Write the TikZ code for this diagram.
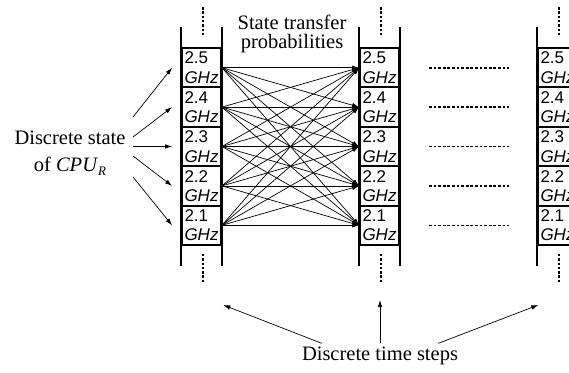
\documentclass[tikz,border=0pt]{standalone}
\usepackage{fontspec}
\setmainfont{Liberation Serif}
\newfontfamily\boxfont{Liberation Sans}
\usepackage{tikz}
\usetikzlibrary{arrows.meta,positioning,calc}
\tikzstyle{statebox} = [draw, line width=1.9pt, rectangle, minimum width=39pt, minimum height=39.4pt, inner sep=0pt, text width=34pt, align=left, font={\boxfont\fontsize{17}{19.5}\selectfont}]
\tikzstyle{rail} = [line width=1.9pt]
\tikzstyle{vdots} = [line width=2pt, dash pattern=on 2.5pt off 1.8pt]
\tikzstyle{hdots} = [line width=1.6pt, dash pattern=on 2.8pt off 1.8pt]
\tikzstyle{trans} = [line width=0.7pt, -{Latex[length=7pt,width=4.5pt]}]
\tikzstyle{mytext} = [draw=none, align=center, inner sep=0pt]

\begin{document}
\begin{tikzpicture}[x=1pt,y=-1pt]
    \useasboundingbox (0,0) rectangle (569,372);
    \clip (0,0) rectangle (569,372);
    % State columns (one per time step)
    \foreach \c/\x in {1/201.5,2/379.5,3/557.5} {
      \foreach \s/\f in {1/2.1,2/2.2,3/2.3,4/2.4,5/2.5} {
        \node[statebox] (step\c-\s) at (\x,{225.3-(\s-1)*39.4}) {\f\\\textit{GHz}};
      }
      \draw[rail] ($(step\c-5.north west)+(0,-20)$) -- ($(step\c-1.south west)+(0,20)$);
      \draw[rail] ($(step\c-5.north east)+(0,-20)$) -- ($(step\c-1.south east)+(0,20)$);
      \draw[vdots] ($(step\c-5.north)+(1,-40)$) -- ($(step\c-5.north)+(1,-10)$);
      \draw[vdots] ($(step\c-1.south)+(1,8)$) -- ($(step\c-1.south)+(1,38)$);
    }
    % State transfer probabilities
    \foreach \i in {1,...,5} {
      \foreach \j in {1,...,5} {
        \draw[trans] (step1-\i.east) -- (step2-\j.west);
      }
    }
    % Dotted gap between steps
    \foreach \s in {1,...,5} {
      \draw[hdots, shorten <=29pt, shorten >=28pt] (step2-\s.east) -- (step3-\s.west);
    }
    % Text labels
    \node[mytext, font={\fontsize{20.5}{19}\selectfont}] (Transfer) at (292,34) {State transfer\\probabilities};
    \node[mytext, font={\fontsize{20.5}{27}\selectfont}] (CPU) at (70,153) {Discrete state\\of \textit{CPU}\raisebox{-4pt}{\fontsize{13}{13}\selectfont\textit{R}}};
    \node[mytext, font={\fontsize{20.5}{24}\selectfont}] (Time) at (380,356) {Discrete time steps};
    % Arrows from the state label
    \foreach \s/\y in {1/177,2/156,3/146.5,4/137,5/117} {
      \coordinate (cpu\s) at (133,\y);
      \draw[trans] (cpu\s) -- ($(step1-\s.west)+(-9,0)$);
    }
    % Arrows from the time label
    \coordinate (time1) at (321.7,343.3);
    \coordinate (time2) at (380,343);
    \coordinate (time3) at (438.3,343.3);
    \coordinate (tip1) at (223.3,305);
    \coordinate (tip2) at (380,300);
    \coordinate (tip3) at (538.3,305);
    \foreach \k in {1,2,3} {
      \draw[trans] (time\k) -- (tip\k);
    }
\end{tikzpicture}
\end{document}
